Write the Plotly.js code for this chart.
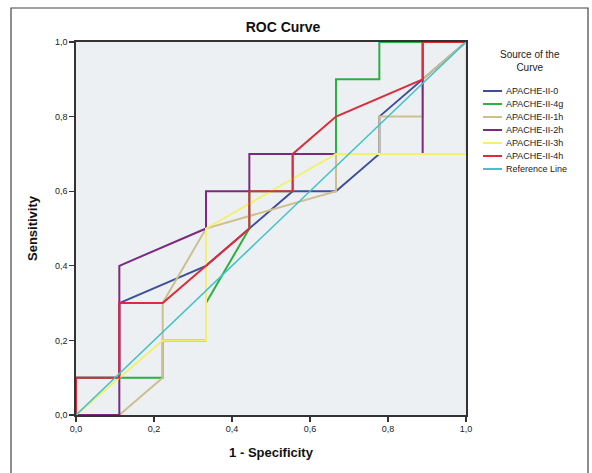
<!DOCTYPE html>
<html>
<head>
<meta charset="utf-8">
<script src="https://cdn.plot.ly/plotly-3.0.1.min.js"></script>
<style>
html,body{margin:0;padding:0;background:#fff;}
#chart{width:592px;height:473px;}
</style>
</head>
<body>
<div id="chart"></div>
<script>
// Data (1 - specificity steps of 1/9, sensitivity steps of 0.1)
const seriesNames = ["APACHE-II-0", "APACHE-II-4g", "APACHE-II-1h", "APACHE-II-2h", "APACHE-II-3h", "APACHE-II-4h", "Reference Line"];
const colors = ["#3E4E9C", "#2BB043", "#CDC08E", "#7B2A7F", "#F2F06E", "#DC2C3C", "#45C2C8"];
const legendTitle = "Source of the<br>Curve";

const x0  = [0, 0, 1/9, 1/9, 3/9, 5/9, 6/9, 7/9, 7/9, 8/9, 1];
const y0  = [0, 0.1, 0.1, 0.3, 0.4, 0.6, 0.6, 0.7, 0.8, 0.9, 1];

const x4g = [0, 0, 2/9, 2/9, 3/9, 3/9, 4/9, 4/9, 5/9, 5/9, 6/9, 6/9, 7/9, 7/9, 1];
const y4g = [0, 0.1, 0.1, 0.2, 0.2, 0.3, 0.5, 0.6, 0.6, 0.7, 0.7, 0.9, 0.9, 1, 1];

const x1h = [0, 1/9, 2/9, 2/9, 3/9, 6/9, 6/9, 7/9, 7/9, 8/9, 8/9, 1];
const y1h = [0, 0, 0.1, 0.3, 0.5, 0.6, 0.7, 0.7, 0.8, 0.8, 0.9, 1];

const x2h = [0, 1/9, 1/9, 3/9, 3/9, 4/9, 4/9, 8/9, 8/9, 1];
const y2h = [0, 0, 0.4, 0.5, 0.6, 0.6, 0.7, 0.7, 1, 1];

const x3h = [0, 2/9, 3/9, 3/9, 6/9, 1, 1];
const y3h = [0, 0.2, 0.2, 0.5, 0.7, 0.7, 1];

const x4h = [0, 0, 1/9, 1/9, 2/9, 3/9, 4/9, 4/9, 5/9, 5/9, 6/9, 8/9, 8/9, 1];
const y4h = [0, 0.1, 0.1, 0.3, 0.3, 0.4, 0.5, 0.6, 0.6, 0.7, 0.8, 0.9, 1, 1];

const xRef = [0, 1];
const yRef = [0, 1];

const xs = [x0, x4g, x1h, x2h, x3h, x4h, xRef];
const ys = [y0, y4g, y1h, y2h, y3h, y4h, yRef];
const widths = [2, 2, 2, 2, 2, 2, 1.6];

const traces = seriesNames.map((n, i) => ({
  type: "scatter",
  mode: "lines",
  name: n,
  x: xs[i],
  y: ys[i],
  line: {color: colors[i], width: widths[i]},
  hoverinfo: "skip",
  showlegend: false
}));

// Plot area in pixels: left 76, right 466, top 42, bottom 415
const PL = 76, PW = 390, PB = 415, PH = 373;
const px2x = p => (p - PL) / PW;
const py2y = p => (PB - p) / PH;

const fontFam = "Liberation Sans, Arial, sans-serif";
const axisCommon = {
  range: [0, 1],
  dtick: 0.2,
  tick0: 0,
  tickformat: ".1f",
  showgrid: false,
  zeroline: false,
  showline: true,
  linecolor: "#333",
  linewidth: 1.6,
  mirror: true,
  ticks: "outside",
  ticklen: 5,
  tickwidth: 1.2,
  tickcolor: "#333",
  tickfont: {family: fontFam, size: 9, color: "#222"},
  fixedrange: true
};

// Custom compact legend (as in the SPSS output)
const shapes = [{
  type: "rect", xref: "paper", yref: "paper",
  x0: px2x(11), x1: px2x(588),
  y0: py2y(490), y1: py2y(8),
  line: {color: "#444", width: 1.2},
  fillcolor: "rgba(0,0,0,0)",
  layer: "below"
}];
const annotations = [{
  text: legendTitle, xref: "paper", yref: "paper",
  x: px2x(530), y: py2y(61), xanchor: "center", yanchor: "middle",
  showarrow: false, align: "center",
  font: {family: fontFam, size: 10, color: "#222"}
}];
seriesNames.forEach((n, i) => {
  const yy = 91 + i * 13;
  shapes.push({
    type: "line", xref: "paper", yref: "paper",
    x0: px2x(483), x1: px2x(502), y0: py2y(yy), y1: py2y(yy),
    line: {color: colors[i], width: 2}
  });
  annotations.push({
    text: n, xref: "paper", yref: "paper",
    x: px2x(504), y: py2y(yy), xanchor: "left", yanchor: "middle",
    showarrow: false,
    font: {family: fontFam, size: 9, color: "#222"}
  });
});

const layout = {
  width: 592,
  height: 473,
  margin: {l: PL, r: 592 - PL - PW, t: PB - PH, b: 473 - PB},
  paper_bgcolor: "#ffffff",
  plot_bgcolor: "#EDF0F2",
  separators: ", ",
  showlegend: false,
  title: {
    text: "<b>ROC Curve</b>",
    font: {family: fontFam, size: 14, color: "#111"},
    x: 283/592, xref: "container", xanchor: "center",
    y: 1 - 27/473, yref: "container", yanchor: "middle"
  },
  xaxis: Object.assign({}, axisCommon, {
    title: {text: "<b>1 - Specificity</b>", font: {family: fontFam, size: 13, color: "#111"}, standoff: 14}
  }),
  yaxis: Object.assign({}, axisCommon, {
    title: {text: "<b>Sensitivity</b>", font: {family: fontFam, size: 13, color: "#111"}, standoff: 14}
  }),
  shapes: shapes,
  annotations: annotations
};

Plotly.newPlot("chart", traces, layout, {displayModeBar: false, staticPlot: true});
</script>
</body>
</html>
